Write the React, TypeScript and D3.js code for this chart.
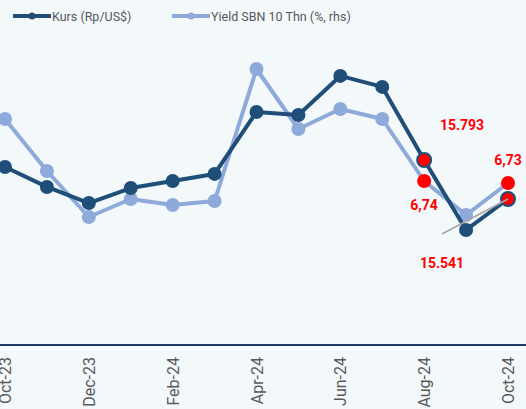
import React, { useEffect, useRef } from 'react'
import * as d3 from 'd3'

const bulan: string[] = ['Oct-23', 'Nov-23', 'Dec-23', 'Jan-24', 'Feb-24', 'Mar-24', 'Apr-24', 'May-24', 'Jun-24', 'Jul-24', 'Aug-24', 'Sep-24', 'Oct-24']
const kurs: number[] = [15748, 15619, 15515, 15612, 15657, 15703, 16103, 16084, 16336, 16265, 15793, 15341, 15541]
const yieldSbn: number[] = [7.05, 6.79, 6.56, 6.65, 6.62, 6.64, 7.3, 7.0, 7.1, 7.05, 6.74, 6.57, 6.73]
const labelBulan: string[] = ['Oct-23', 'Dec-23', 'Feb-24', 'Apr-24', 'Jun-24', 'Aug-24', 'Oct-24']
// titik yang ditandai merah + labelnya
const sorotKurs: number[] = [10, 12]
const sorotYield: number[] = [10, 12]

export default function App() {
  const svgRef = useRef<SVGSVGElement | null>(null)
  const width = 526
  const height = 409
  const biruTua = '#1f4e79'
  const biruMuda = '#8eaadb'

  useEffect(() => {
    const svg = d3.select(svgRef.current)
    svg.selectAll('*').remove()

    svg.append('rect').attr('width', width).attr('height', height).attr('fill', '#f3f8fb')

    const x = d3.scalePoint<string>().domain(bulan).range([5, 508])
    const yKiri = d3.scaleLinear().domain([14598, 16568]).range([345, 40])
    const yKanan = d3.scaleLinear().domain([5.92, 7.445]).range([345, 40])

    // sumbu x
    svg.append('line')
      .attr('x1', 0).attr('x2', width)
      .attr('y1', 345).attr('y2', 345)
      .attr('stroke', '#1f3b66').attr('stroke-width', 2)

    svg.append('g').selectAll('text')
      .data(labelBulan)
      .join('text')
      .attr('transform', d => `translate(${x(d)! + 6},357) rotate(-90)`)
      .attr('text-anchor', 'end')
      .attr('font-family', 'Roboto, sans-serif')
      .attr('font-size', 16)
      .attr('fill', '#595959')
      .text(d => d)

    const garisYield = d3.line<number>().x((_, i) => x(bulan[i])!).y(d => yKanan(d))
    const garisKurs = d3.line<number>().x((_, i) => x(bulan[i])!).y(d => yKiri(d))

    svg.append('path').datum(yieldSbn)
      .attr('d', garisYield).attr('fill', 'none')
      .attr('stroke', biruMuda).attr('stroke-width', 4).attr('stroke-linejoin', 'round')
    svg.append('g').selectAll('circle')
      .data(yieldSbn)
      .join('circle')
      .attr('cx', (_, i) => x(bulan[i])!)
      .attr('cy', d => yKanan(d))
      .attr('r', 7)
      .attr('fill', (_, i) => sorotYield.includes(i) ? '#ff0000' : biruMuda)

    svg.append('path').datum(kurs)
      .attr('d', garisKurs).attr('fill', 'none')
      .attr('stroke', biruTua).attr('stroke-width', 4).attr('stroke-linejoin', 'round')
    svg.append('g').selectAll('circle')
      .data(kurs)
      .join('circle')
      .attr('cx', (_, i) => x(bulan[i])!)
      .attr('cy', d => yKiri(d))
      .attr('r', 7)
      .attr('fill', (_, i) => sorotKurs.includes(i) ? '#ff0000' : biruTua)
      .attr('stroke', biruTua)
      .attr('stroke-width', (_, i) => sorotKurs.includes(i) ? 2 : 0)

    // garis abu-abu kecil
    svg.append('line')
      .attr('x1', 442).attr('y1', 234)
      .attr('x2', x('Oct-24')!).attr('y2', yKiri(kurs[12]))
      .attr('stroke', '#a6a6a6').attr('stroke-width', 1.5)

    // label nilai
    const label = (tx: number, ty: number, s: string) =>
      svg.append('text')
        .attr('x', tx).attr('y', ty)
        .attr('text-anchor', 'middle')
        .attr('font-family', 'Roboto, sans-serif')
        .attr('font-size', 14).attr('font-weight', 'bold')
        .attr('fill', '#ff0000')
        .text(s)
    label(462, 130, d3.format(',')(kurs[10]).replace(',', '.'))
    label(442, 268, d3.format(',')(kurs[12]).replace(',', '.'))
    label(424, 210, yieldSbn[10].toFixed(2).replace('.', ','))
    label(508, 165, yieldSbn[12].toFixed(2).replace('.', ','))

    // legenda
    const legenda = [
      { nama: 'Kurs (Rp/US$)', warna: biruTua, x0: 13 },
      { nama: 'Yield SBN 10 Thn (%, rhs)', warna: biruMuda, x0: 172 },
    ]
    const lg = svg.append('g').selectAll('g').data(legenda).join('g')
      .attr('transform', d => `translate(${d.x0},16)`)
    lg.append('line').attr('x1', 0).attr('x2', 38).attr('y1', 0).attr('y2', 0)
      .attr('stroke', d => d.warna).attr('stroke-width', 4)
    lg.append('circle').attr('cx', 19).attr('r', 3.5).attr('fill', d => d.warna)
    lg.append('text').attr('x', 39).attr('y', 4.5)
      .attr('font-family', 'Roboto, sans-serif').attr('font-size', 12.5)
      .attr('fill', '#595959')
      .text(d => d.nama)
  }, [])

  return (
    <svg ref={svgRef} width={width} height={height}
      style={{ position: 'absolute', left: 0, top: 0, display: 'block' }} />
  )
}
